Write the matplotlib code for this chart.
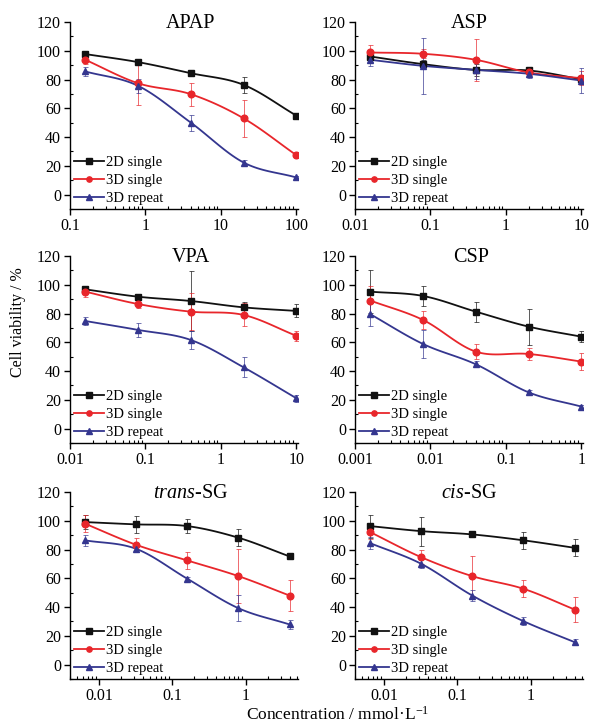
import numpy as np
import matplotlib
matplotlib.use("Agg")
import matplotlib.pyplot as plt
from matplotlib.ticker import MultipleLocator, FixedLocator, LogLocator, NullFormatter

plt.rcParams['font.family'] = ['Liberation Serif', 'DejaVu Serif']
plt.rcParams['mathtext.fontset'] = 'custom'
plt.rcParams['mathtext.rm'] = 'Liberation Serif'
plt.rcParams['mathtext.it'] = 'Liberation Serif:italic'

# concentrations (mmol/L) per drug
conc_apap = [0.16, 0.8, 4, 20, 100]
conc_asp = [0.016, 0.08, 0.4, 2, 10]
conc_vpa = [0.016, 0.08, 0.4, 2, 10]
conc_csp = [0.0016, 0.008, 0.04, 0.2, 1]
conc_sg = [0.0064, 0.032, 0.16, 0.8, 4]

series_names = ["2D single", "3D single", "3D repeat"]

# cell viability (%) : 2D single, 3D single, 3D repeat
apap_2d = [97.7, 92.1, 84.4, 76.3, 54.9]
apap_3ds = [93.7, 77.4, 69.8, 53.0, 27.4]
apap_3dr = [85.6, 75.6, 50.0, 22.3, 11.9]
apap_2d_err = [2, 1.5, 1.5, 5.5, 1.5]
apap_3ds_err = [3, 15, 8, 12.8, 2]
apap_3dr_err = [3, 5, 5.5, 1.5, 1]

asp_2d = [96.0, 90.7, 86.7, 86.3, 80.2]
asp_3ds = [98.8, 97.9, 93.7, 84.9, 80.9]
asp_3dr = [93.7, 89.5, 86.7, 84.0, 79.3]
asp_2d_err = [4, 3, 4, 2, 3]
asp_3ds_err = [5, 3, 14.5, 2, 5]
asp_3dr_err = [4, 19.5, 6, 3, 8.5]

vpa_2d = [96.8, 91.7, 88.7, 84.3, 81.8]
vpa_3ds = [95.2, 86.6, 81.3, 79.0, 64.5]
vpa_3dr = [74.8, 68.6, 61.6, 42.6, 21.1]
vpa_2d_err = [2, 2, 21, 4, 4.5]
vpa_3ds_err = [4, 2.5, 13, 8, 3.5]
vpa_3dr_err = [3, 5, 6, 7, 2.5]

csp_2d = [95.2, 92.2, 81.3, 70.9, 63.9]
csp_3ds = [89.0, 75.5, 53.5, 51.9, 46.6]
csp_3dr = [79.5, 58.8, 44.7, 25.2, 15.3]
csp_2d_err = [15, 7, 7, 12.5, 4]
csp_3ds_err = [10, 6, 5, 4, 6]
csp_3dr_err = [8, 10, 2, 1.5, 1]

tsg_2d = [99.1, 97.5, 96.3, 88.2, 75.2]
tsg_3ds = [98.0, 83.3, 72.4, 61.5, 48.0]
tsg_3dr = [86.4, 80.5, 59.7, 39.2, 27.9]
tsg_2d_err = [5, 6, 5, 6, 1.5]
tsg_3ds_err = [6, 5, 6, 19, 11]
tsg_3dr_err = [4, 2, 1, 9, 3]

csg_2d = [96.3, 92.8, 90.5, 86.4, 81.2]
csg_3ds = [92.2, 74.7, 61.5, 52.7, 38.3]
csg_3dr = [84.5, 70.1, 48.0, 30.2, 15.6]
csg_2d_err = [8, 10, 1.5, 6, 6]
csg_3ds_err = [5, 5, 14, 6, 9]
csg_3dr_err = [4, 3, 4, 3, 2]

panels = [
    ("APAP", conc_apap, (0.1, 105), [0.1, 1, 10, 100], ["0.1", "1", "10", "100"],
     [apap_2d, apap_3ds, apap_3dr], [apap_2d_err, apap_3ds_err, apap_3dr_err]),
    ("ASP", conc_asp, (0.01, 10.5), [0.01, 0.1, 1, 10], ["0.01", "0.1", "1", "10"],
     [asp_2d, asp_3ds, asp_3dr], [asp_2d_err, asp_3ds_err, asp_3dr_err]),
    ("VPA", conc_vpa, (0.01, 10.5), [0.01, 0.1, 1, 10], ["0.01", "0.1", "1", "10"],
     [vpa_2d, vpa_3ds, vpa_3dr], [vpa_2d_err, vpa_3ds_err, vpa_3dr_err]),
    ("CSP", conc_csp, (0.001, 1.05), [0.001, 0.01, 0.1, 1], ["0.001", "0.01", "0.1", "1"],
     [csp_2d, csp_3ds, csp_3dr], [csp_2d_err, csp_3ds_err, csp_3dr_err]),
    (r"$\it{trans}$-SG", conc_sg, (0.004, 5.2), [0.01, 0.1, 1], ["0.01", "0.1", "1"],
     [tsg_2d, tsg_3ds, tsg_3dr], [tsg_2d_err, tsg_3ds_err, tsg_3dr_err]),
    (r"$\it{cis}$-SG", conc_sg, (0.004, 5.2), [0.01, 0.1, 1], ["0.01", "0.1", "1"],
     [csg_2d, csg_3ds, csg_3dr], [csg_2d_err, csg_3ds_err, csg_3dr_err]),
]

colors = ["#111111", "#e8262b", "#34368f"]
markers = ["s", "o", "^"]


def smooth(x, y, n=20):
    # catmull-rom curve through the points, in log-x space
    lx = np.log10(x)
    y = np.asarray(y, float)
    px = np.concatenate([[2 * lx[0] - lx[1]], lx, [2 * lx[-1] - lx[-2]]])
    py = np.concatenate([[2 * y[0] - y[1]], y, [2 * y[-1] - y[-2]]])
    xs, ys = [], []
    t = np.linspace(0, 1, n)
    for i in range(1, len(px) - 2):
        for p, out in ((px, xs), (py, ys)):
            p0, p1, p2, p3 = p[i - 1], p[i], p[i + 1], p[i + 2]
            out.extend(0.5 * (2 * p1 + (-p0 + p2) * t + (2 * p0 - 5 * p1 + 4 * p2 - p3) * t ** 2
                              + (-p0 + 3 * p1 - 3 * p2 + p3) * t ** 3))
    return 10 ** np.array(xs), np.array(ys)


fig = plt.figure(figsize=(5.91, 7.25), dpi=100)

lefts = [70 / 591, 355 / 591]
bottoms = [1 - 209 / 725, 1 - 443 / 725, 1 - 679 / 725]
w = 228 / 591
h = 187 / 725
title_x = [0.53, 0.5, 0.53, 0.51, 0.53, 0.5]

for k, (title, conc, xlim, xt, xtl, ys, errs) in enumerate(panels):
    ax = fig.add_axes([lefts[k % 2], bottoms[k // 2], w, h])
    handles = []
    for j in range(3):
        sx, sy = smooth(conc, ys[j])
        ax.plot(sx, sy, color=colors[j], lw=1.3, zorder=2)
        ax.errorbar(conc, ys[j], yerr=errs[j], fmt="none", ecolor=colors[j],
                    elinewidth=0.6, capsize=1.8, capthick=0.6, alpha=0.8, zorder=1)
        ax.plot(conc, ys[j], ls="none", marker=markers[j], color=colors[j], ms=4.8, zorder=3)
        hd, = ax.plot([], [], color=colors[j], lw=1.3, marker=markers[j], ms=3.8,
                      label=series_names[j])
        handles.append(hd)
    ax.set_xscale("log")
    ax.set_xlim(*xlim)
    ax.set_ylim(-10, 120)
    ax.xaxis.set_major_locator(FixedLocator(xt))
    ax.set_xticklabels(xtl)
    ax.xaxis.set_minor_locator(LogLocator(base=10, subs=np.arange(2, 10)))
    ax.xaxis.set_minor_formatter(NullFormatter())
    ax.yaxis.set_major_locator(MultipleLocator(20))
    ax.yaxis.set_minor_locator(MultipleLocator(10))
    for s in ["top", "right"]:
        ax.spines[s].set_visible(False)
    for s in ["left", "bottom"]:
        ax.spines[s].set_linewidth(1.0)
    ax.tick_params(which="major", direction="out", length=4, width=1, labelsize=11.5, pad=2.5)
    ax.tick_params(which="minor", direction="in", length=2.5, width=0.8)
    ax.text(title_x[k], 0.99, title, transform=ax.transAxes, ha="center", va="center",
            fontsize=14.5)
    ax.legend(handles=handles, loc="lower left", frameon=False, fontsize=10.5,
              handlelength=2.0, handletextpad=0.15, labelspacing=0.3,
              borderaxespad=0.1, borderpad=0.2, numpoints=1)

fig.text(18 / 591, 0.556, "Cell viability / %", rotation=90, ha="center", va="center",
         fontsize=11.5)
fig.text(338 / 591, 0.002, "Concentration / mmol·L$^{-1}$", ha="center",
         va="bottom", fontsize=12.5)

fig.savefig("out.png", dpi=100, facecolor="white")
